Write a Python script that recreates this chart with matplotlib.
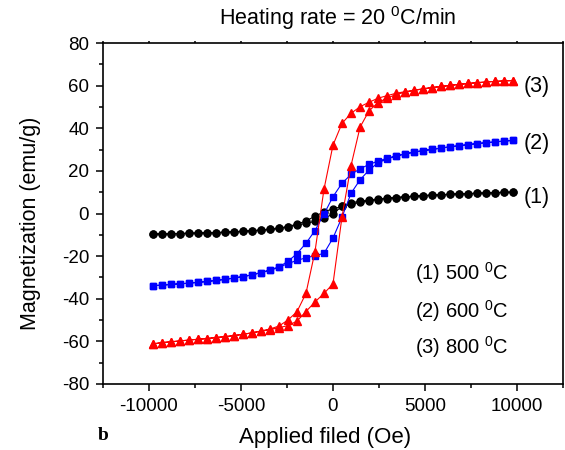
import matplotlib
matplotlib.use("Agg")
import matplotlib.pyplot as plt
from matplotlib.ticker import MultipleLocator

plt.rcParams['font.family'] = ['Liberation Sans', 'DejaVu Sans']
plt.rcParams['mathtext.fontset'] = 'custom'
plt.rcParams['mathtext.rm'] = 'Liberation Sans'
plt.rcParams['mathtext.it'] = 'Liberation Sans:italic'
plt.rcParams['axes.unicode_minus'] = False

# Field grid (Oe): descending branch goes +H -> -H, ascending the reverse
H_desc = [9800, 9310, 8820, 8330, 7840, 7350, 6860, 6370, 5880, 5390, 4900,
          4410, 3920, 3430, 2940, 2450, 1960, 1470, 980, 490, 0,
          -490, -980, -1470, -1960, -2450, -2940, -3430, -3920, -4410, -4900,
          -5390, -5880, -6370, -6860, -7350, -7840, -8330, -8820, -9310, -9800]
H_asc = [-9800, -9310, -8820, -8330, -7840, -7350, -6860, -6370, -5880, -5390, -4900,
         -4410, -3920, -3430, -2940, -2450, -1960, -1470, -980, -490, 0,
         490, 980, 1470, 1960, 2450, 2940, 3430, 3920, 4410, 4900,
         5390, 5880, 6370, 6860, 7350, 7840, 8330, 8820, 9310, 9800]

# (1) 500 C  -- black circles
M1_desc = [10.0, 9.9, 9.8, 9.6, 9.5, 9.3, 9.2, 9.0, 8.8, 8.6, 8.4,
           8.1, 7.8, 7.4, 7.0, 6.5, 5.9, 5.2, 4.3, 3.3, 2.2,
           0.8, -1.3, -3.5, -5.0, -6.1, -6.9, -7.4, -7.8, -8.1, -8.4,
           -8.6, -8.8, -9.0, -9.1, -9.2, -9.3, -9.4, -9.5, -9.6, -9.7]
M1_asc = [-9.7, -9.6, -9.5, -9.4, -9.3, -9.2, -9.1, -9.0, -8.8, -8.6, -8.4,
          -8.1, -7.8, -7.4, -7.0, -6.3, -5.5, -4.6, -3.7, -2.2, -0.3,
          3.5, 5.0, 5.8, 6.3, 6.8, 7.2, 7.5, 7.8, 8.1, 8.4,
          8.6, 8.8, 9.0, 9.2, 9.3, 9.5, 9.6, 9.8, 9.9, 10.0]

# (2) 600 C  -- blue squares
M2_desc = [34.3, 34.0, 33.6, 33.2, 32.8, 32.3, 31.8, 31.3, 30.7, 30.1, 29.5,
           28.8, 28.0, 27.0, 25.9, 24.6, 23.0, 21.0, 18.3, 14.2, 7.9,
           -0.3, -8.0, -14.0, -18.8, -22.5, -25.0, -26.5, -27.7, -28.8, -29.6,
           -30.3, -30.9, -31.4, -31.9, -32.3, -32.7, -33.0, -33.3, -33.6, -33.9]
M2_asc = [-33.9, -33.6, -33.3, -33.0, -32.7, -32.3, -31.9, -31.4, -30.9, -30.3, -29.6,
          -28.8, -27.8, -26.7, -25.3, -23.5, -22.0, -20.8, -19.8, -18.7, -11.5,
          -1.7, 9.5, 15.8, 20.4, 23.8, 25.6, 26.9, 28.0, 28.8, 29.5,
          30.1, 30.7, 31.3, 31.8, 32.3, 32.8, 33.2, 33.6, 34.0, 34.3]

# (3) 800 C  -- red triangles
M3_desc = [62.4, 62.2, 62.0, 61.7, 61.4, 61.0, 60.6, 60.1, 59.6, 59.1, 58.5,
           57.9, 57.2, 56.4, 55.3, 54.1, 52.2, 50.1, 47.0, 42.3, 32.1,
           11.4, -17.9, -37.5, -46.1, -50.0, -52.8, -54.2, -55.1, -56.0, -56.7,
           -57.3, -57.8, -58.2, -58.7, -59.0, -59.4, -59.8, -60.2, -60.6, -61.2]
M3_asc = [-61.2, -60.6, -60.2, -59.8, -59.4, -59.0, -58.7, -58.2, -57.8, -57.3, -56.7,
          -56.0, -55.3, -54.5, -53.6, -52.6, -50.5, -46.0, -41.5, -37.5, -33.0,
          -1.5, 22.5, 40.5, 48.2, 52.0, 54.2, 55.8, 56.9, 57.7, 58.5,
          59.1, 59.6, 60.1, 60.6, 61.0, 61.4, 61.7, 62.0, 62.2, 62.4]

series = [
    ("black", "o", M1_desc, M1_asc, 5.0),
    ("#0000ff", "s", M2_desc, M2_asc, 4.6),
    ("#ff0000", "^", M3_desc, M3_asc, 5.4),
]

curve_labels = ["(1)", "(2)", "(3)"]
curve_label_y = [7.7, 33.0, 59.8]
legend_lines = [r"(1) 500 $^{0}$C", r"(2) 600 $^{0}$C", r"(3) 800 $^{0}$C"]
legend_y = [-27.9, -45.8, -62.5]

fig = plt.figure(figsize=(5.65, 4.5), dpi=100)
ax = fig.add_axes([103/565, 66/450, 460/565, 341/450])

for color, marker, md, ma, ms in series:
    ax.plot(H_desc + H_asc, md + ma, color=color, marker=marker, ms=ms,
            mec=color, mfc=color, lw=0.8)

ax.set_xlim(-12500, 12500)
ax.set_ylim(-80, 80)
ax.xaxis.set_major_locator(MultipleLocator(5000))
ax.xaxis.set_minor_locator(MultipleLocator(2500))
ax.yaxis.set_major_locator(MultipleLocator(20))
ax.yaxis.set_minor_locator(MultipleLocator(10))
ax.tick_params(which='major', direction='out', length=5, width=1.1, labelsize=13.5,
               right=False)
ax.tick_params(which='minor', direction='out', length=3, width=1.1, right=False)
ax.tick_params(axis='x', which='both', top=True, labeltop=False)
ax.tick_params(axis='x', which='major', pad=5)
ax.tick_params(axis='y', which='major', pad=5)
for t in ax.xaxis.get_major_ticks() + ax.xaxis.get_minor_ticks():
    t.tick2line.set_markersize(1.5)
for sp in ax.spines.values():
    sp.set_linewidth(1.2)

ax.set_xlabel("Applied filed (Oe)", fontsize=16)
ax.set_ylabel("Magnetization (emu/g)", fontsize=15.5)
ax.xaxis.set_label_coords((325 - 103) / 460, -(437 - 384) / 341)
ax.yaxis.set_label_coords(-(103 - 31) / 460, (384 - 223) / 341)
ax.xaxis.label.set_va('center')
ax.yaxis.label.set_va('center')

for lab, y in zip(curve_labels, curve_label_y):
    ax.text(10350, y, lab, fontsize=15.5, va='center', ha='left')
for lab, y in zip(legend_lines, legend_y):
    ax.text(4450, y, lab, fontsize=14.5, va='center', ha='left')

fig.text(338/565, 1 - 18/450, r"Heating rate = 20 $^{0}$C/min", fontsize=15.5,
         ha='center', va='center')
fig.text(98/565, 1 - 436/450, "b", fontsize=14, fontweight='bold',
         family='Liberation Serif', ha='left', va='center')

fig.savefig("out.png", dpi=100)
